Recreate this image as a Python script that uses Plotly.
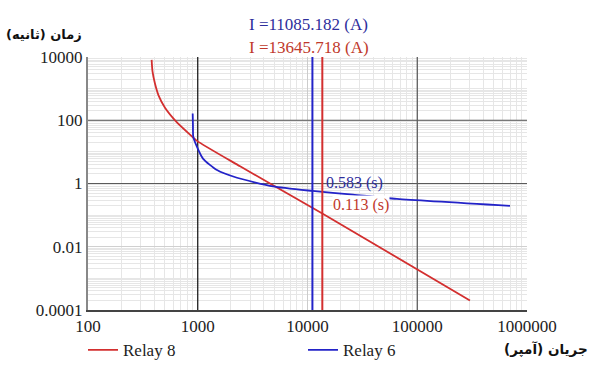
import plotly.graph_objects as go

# ---- data ----
relay8_I = [380, 387, 408, 439, 503, 643, 850, 984, 2430, 13645.718, 302000]
relay8_t = [8100, 3500, 1420, 613, 248, 87, 35, 22.3, 3.5, 0.113, 0.0002]

relay6_I = [899, 904, 910, 978, 1116, 1497, 2279, 4853, 11085.182, 26000, 65300, 700000]
relay6_t = [163, 70.5, 30.5, 15.2, 6.14, 2.66, 1.52, 0.811, 0.583, 0.442, 0.327, 0.197]

fault_I6 = 11085.182
fault_I8 = 13645.718
t6 = 0.583
t8 = 0.113

x_ticks = [100, 1000, 10000, 100000, 1000000]
x_ticktext = ["100", "1000", "10000", "100000", "1000000"]
y_ticks = [0.0001, 0.01, 1, 100, 10000]
y_ticktext = ["0.0001", "0.01", "1", "100", "10000"]

# emphasised grid lines
dark_x = [1000, 100000]
dark_x_colors = ["#111111", "#555555"]
dark_y = [100, 1]

RED = "#d32f2f"
BLUE = "#2323c8"
RED_TXT = "#c0392b"
BLUE_TXT = "#2e2e9c"
SERIF = "Liberation Serif"

x_min, x_max = 100, 1000000
y_min, y_max = 0.0001, 10000

fig = go.Figure()
# darker grid lines (drawn first, under the curves)
for xv, c in zip(dark_x, dark_x_colors):
    fig.add_trace(go.Scatter(x=[xv, xv], y=[y_min, y_max], mode="lines",
                             line=dict(color=c, width=1.2), showlegend=False, hoverinfo="skip"))
for yv in dark_y:
    fig.add_trace(go.Scatter(x=[x_min, x_max], y=[yv, yv], mode="lines",
                             line=dict(color="#5a5a5a", width=1.2), showlegend=False, hoverinfo="skip"))

fig.add_trace(go.Scatter(x=relay8_I, y=relay8_t, mode="lines", name="Relay 8",
                         line=dict(color=RED, width=1.8, shape="spline", smoothing=0.6)))
fig.add_trace(go.Scatter(x=relay6_I, y=relay6_t, mode="lines", name="Relay 6",
                         line=dict(color=BLUE, width=1.8, shape="spline", smoothing=0.6)))
# fault current lines
fig.add_trace(go.Scatter(x=[fault_I6, fault_I6], y=[y_min, y_max], mode="lines",
                         line=dict(color=BLUE, width=2), showlegend=False))
fig.add_trace(go.Scatter(x=[fault_I8, fault_I8], y=[y_min, y_max], mode="lines",
                         line=dict(color=RED, width=2), showlegend=False))

W, H = 591, 380
L, R, T, B = 88, 64, 57, 59
pw, ph = W - L - R, H - T - B
def px(x):
    return (x - L) / pw
def py(y):
    return (H - B - y) / ph

fig.add_annotation(text=f"I ={fault_I6:.3f} (A)", xref="paper", yref="paper",
                   x=px(247), y=py(23), xanchor="left", yanchor="middle", showarrow=False,
                   font=dict(family=SERIF, size=17, color=BLUE_TXT))
fig.add_annotation(text=f"I ={fault_I8:.3f} (A)", xref="paper", yref="paper",
                   x=px(247), y=py(47), xanchor="left", yanchor="middle", showarrow=False,
                   font=dict(family=SERIF, size=17, color=RED_TXT))
fig.add_annotation(text=f"{t6:.3f} (s)", xref="paper", yref="paper",
                   x=px(324), y=py(188), xanchor="left", yanchor="middle", showarrow=False,
                   font=dict(family=SERIF, size=16, color=BLUE_TXT))
fig.add_annotation(text=f"{t8:.3f} (s)", xref="paper", yref="paper",
                   x=px(332), y=py(211), xanchor="left", yanchor="middle", showarrow=False,
                   bgcolor="white", borderpad=0,
                   font=dict(family=SERIF, size=16, color=RED_TXT))
# axis titles (Persian)
fig.add_annotation(text="<b>زمان (ثانیه)</b>", xref="paper", yref="paper",
                   x=px(84), y=py(33), xanchor="right", yanchor="middle", showarrow=False,
                   font=dict(family="DejaVu Sans", size=13, color="#111"))
fig.add_annotation(text="<b>جریان (آمپر)</b>", xref="paper", yref="paper",
                   x=px(590), y=py(362), xanchor="right", yanchor="middle", showarrow=False,
                   font=dict(family="DejaVu Sans", size=13.5, color="#111"))

fig.update_xaxes(type="log", range=[2, 6], tickvals=x_ticks, ticktext=x_ticktext,
                 showgrid=True, gridcolor="#cccccc", gridwidth=1,
                 minor=dict(dtick="D1", showgrid=True, gridcolor="#e6e6e6", gridwidth=1),
                 showline=True, linecolor="#444444", linewidth=1.5,
                 ticks="", zeroline=False,
                 tickfont=dict(family=SERIF, size=17, color="#222"))
fig.update_yaxes(type="log", range=[-4, 4], tickvals=y_ticks, ticktext=y_ticktext,
                 showgrid=True, gridcolor="#d0d0d0", gridwidth=1,
                 minor=dict(dtick="D1", showgrid=True, gridcolor="#e6e6e6", gridwidth=1),
                 showline=True, linecolor="#888888", linewidth=2,
                 ticks="", zeroline=False,
                 tickfont=dict(family=SERIF, size=17, color="#222"))

fig.update_layout(
    width=W, height=H,
    margin=dict(l=L, r=R, t=T, b=B, pad=0),
    paper_bgcolor="white", plot_bgcolor="white",
    showlegend=True,
    legend=dict(orientation="h", x=px(83), y=py(363), xanchor="left", yanchor="middle",
                font=dict(family=SERIF, size=17, color="#222"),
                entrywidth=175, entrywidthmode="pixels",
                bgcolor="rgba(0,0,0,0)", borderwidth=0),
)

fig.write_html("out.html")
